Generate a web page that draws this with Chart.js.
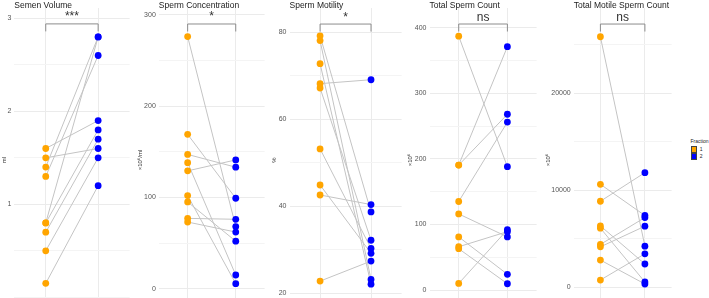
<!DOCTYPE html>
<html>
<head>
<meta charset="utf-8">
<title>Semen parameters by fraction</title>
<script src="https://cdn.jsdelivr.net/npm/chart.js@4.4.1/dist/chart.umd.min.js"></script>
<style>
    html, body { margin: 0; padding: 0; background: #fff; }
    #wrap { position: relative; width: 709px; height: 298px; overflow: hidden; }
    .panel { position: absolute; top: 0; height: 316px; }
    #legend { position: absolute; left: 690.5px; top: 137.5px; font: 5px "Liberation Sans", Arial, sans-serif; color: #222; }
    .lg-title { height: 7px; line-height: 7px; margin-bottom: 1.5px; }
    .lg-item { display: flex; align-items: center; height: 6.8px; }
    .lg-box { width: 6.8px; height: 6.8px; box-sizing: border-box; border: 0.6px solid #444; margin-right: 2.5px; }
</style>
</head>
<body>
<div id="wrap"><div id="legend"></div></div>
<script>
// fractions
const fractions = ["1", "2"];
const fractionColors = ["#FFA500", "#0000FF"];

// panel texts
const titles = ["Semen Volume", "Sperm Concentration", "Sperm Motility", "Total Sperm Count", "Total Motile Sperm Count"];
const units = ["ml", "×10⁶/ml", "%", "×10⁶", "×10⁶"];
const signif = ["***", "*", "*", "ns", "ns"];
const bracketLevels = [2.94, 289.8, 81.9, 405.6, 27140];

// paired values (same index = same sample), fraction 1 / fraction 2
const volume1 = [1.6, 1.5, 1.4, 1.3, 0.8, 0.8, 0.7, 0.5, 0.15];
const volume2 = [1.9, 1.6, 2.8, 2.6, 2.8, 1.8, 1.7, 1.5, 1.2];

const concentration1 = [276, 169, 147, 138, 129, 102, 95, 77, 73];
const concentration2 = [68, 99, 133, 15, 141, 5.5, 52, 76, 62];

const motility1 = [79.2, 78.1, 72.8, 68.2, 67.2, 53.2, 44.9, 42.6, 22.8];
const motility2 = [38.7, 23.2, 22.1, 69.1, 32.2, 30.3, 29.2, 40.4, 27.4];

const totalCount1 = [387, 190.5, 190.5, 135, 116, 81, 66, 63, 10];
const totalCount2 = [188, 371, 268, 256, 81, 24, 89, 9.6, 92];

const motileCount1 = [25830, 10620, 8870, 6330, 6100, 4420, 4170, 2810, 750];
const motileCount2 = [4245, 7400, 11820, 2400, 545, 7190, 6300, 340, 3450];

// y ticks (grid lines) and the labelled ones
const volumeTicks = [0, 0.5, 1, 1.5, 2, 2.5, 3];
const volumeLabels = [1, 2, 3];
const concentrationTicks = [0, 50, 100, 150, 200, 250, 300];
const concentrationLabels = [0, 100, 200, 300];
const motilityTicks = [20, 30, 40, 50, 60, 70, 80];
const motilityLabels = [20, 40, 60, 80];
const totalCountTicks = [0, 50, 100, 150, 200, 250, 300, 350, 400];
const totalCountLabels = [0, 100, 200, 300, 400];
const motileCountTicks = [0, 5000, 10000, 15000, 20000, 25000];
const motileCountLabels = [0, 10000, 20000];

const FONT = "'Liberation Sans', Arial, sans-serif";

const panels = [
    { left: 0, width: 133, axisW: 14.3, min: -0.158, max: 3.111, f1: volume1, f2: volume2, ticks: volumeTicks, labels: volumeLabels },
    { left: 136, width: 132, axisW: 22.8, min: -25.5, max: 307.3, f1: concentration1, f2: concentration2, ticks: concentrationTicks, labels: concentrationLabels },
    { left: 270, width: 135, axisW: 19.5, min: 15.7, max: 85.59, f1: motility1, f2: motility2, ticks: motilityTicks, labels: motilityLabels },
    { left: 406, width: 134, axisW: 23.5, min: -33.5, max: 430, f1: totalCount1, f2: totalCount2, ticks: totalCountTicks, labels: totalCountLabels },
    { left: 544, width: 131, axisW: 29.7, min: -2546, max: 28794, f1: motileCount1, f2: motileCount2, ticks: motileCountTicks, labels: motileCountLabels },
];

// title, significance bracket and star label
const panelDeco = {
    id: "panelDeco",
    afterDraw(chart, args, opts) {
        const { ctx, chartArea, scales } = chart;
        ctx.save();
        ctx.fillStyle = "#1a1a1a";
        ctx.font = "8.5px " + FONT;
        ctx.textAlign = "left";
        ctx.textBaseline = "alphabetic";
        ctx.fillText(opts.title, chartArea.left, 7.5);

        const x1 = scales.x.getPixelForValue(1);
        const x2 = scales.x.getPixelForValue(2);
        const yb = scales.y.getPixelForValue(opts.level);
        ctx.strokeStyle = "#8c8c8c";
        ctx.lineWidth = 1;
        ctx.beginPath();
        ctx.moveTo(x1, yb + 7.5);
        ctx.lineTo(x1, yb);
        ctx.lineTo(x2, yb);
        ctx.lineTo(x2, yb + 7.5);
        ctx.stroke();

        ctx.fillStyle = "#333";
        ctx.font = "12px " + FONT;
        ctx.textAlign = "center";
        ctx.fillText(opts.label, (x1 + x2) / 2, yb - 3.5);
        ctx.restore();
    },
};

// legend drawn as html next to the last panel
const htmlLegend = {
    id: "htmlLegend",
    afterUpdate(chart, args, opts) {
        const box = document.getElementById(opts.containerID);
        if (!box) return;
        box.innerHTML = "";
        const head = document.createElement("div");
        head.className = "lg-title";
        head.textContent = opts.title;
        box.appendChild(head);
        chart.options.plugins.legend.labels
            .generateLabels(chart)
            .filter((item) => fractions.includes(item.text))
            .forEach((item) => {
                const row = document.createElement("div");
                row.className = "lg-item";
                const sw = document.createElement("span");
                sw.className = "lg-box";
                sw.style.background = item.fillStyle;
                const txt = document.createElement("span");
                txt.textContent = item.text;
                row.appendChild(sw);
                row.appendChild(txt);
                box.appendChild(row);
            });
    },
};

const wrap = document.getElementById("wrap");

panels.forEach((p, i) => {
    const holder = document.createElement("div");
    holder.className = "panel";
    holder.style.left = p.left + "px";
    holder.style.width = p.width + "px";
    const canvas = document.createElement("canvas");
    holder.appendChild(canvas);
    wrap.appendChild(holder);

    const pairLines = [];
    p.f1.forEach((v, k) => {
        pairLines.push({ x: 1, y: v }, { x: 2, y: p.f2[k] }, { x: null, y: null });
    });

    const pointSet = (vals, f) => ({
        label: fractions[f],
        data: vals.map((v) => ({ x: f + 1, y: v })),
        showLine: false,
        backgroundColor: fractionColors[f],
        borderColor: fractionColors[f],
        pointRadius: 3.4,
        pointHoverRadius: 3.4,
        pointBorderWidth: 0,
        clip: false,
        order: 0,
    });

    const isLast = i === panels.length - 1;

    new Chart(canvas.getContext("2d"), {
        type: "line",
        data: {
            datasets: [
                pointSet(p.f1, 0),
                pointSet(p.f2, 1),
                {
                    label: "pairs",
                    data: pairLines,
                    borderColor: "#c4c4c4",
                    borderWidth: 1,
                    pointRadius: 0,
                    pointHoverRadius: 0,
                    spanGaps: false,
                    tension: 0,
                    order: 1,
                },
            ],
        },
        options: {
            responsive: true,
            maintainAspectRatio: false,
            animation: false,
            events: [],
            layout: { padding: { top: 8, bottom: 4, left: 0, right: 0 } },
            plugins: {
                legend: { display: false },
                tooltip: { enabled: false },
                panelDeco: { title: titles[i], level: bracketLevels[i], label: signif[i] },
                htmlLegend: { containerID: "legend", title: "Fraction" },
            },
            scales: {
                x: {
                    type: "linear",
                    min: 0.4,
                    max: 2.6,
                    afterBuildTicks: (s) => {
                        s.ticks = [{ value: 1 }, { value: 2 }];
                    },
                    afterFit: (s) => {
                        s.height = 0;
                        s.paddingLeft = 0;
                        s.paddingRight = 0;
                    },
                    ticks: { display: false },
                    grid: { color: "#ebebeb", drawTicks: false },
                    border: { display: false },
                },
                y: {
                    min: p.min,
                    max: p.max,
                    afterBuildTicks: (s) => {
                        s.ticks = p.ticks.map((v) => ({ value: v }));
                    },
                    afterFit: (s) => {
                        s.width = p.axisW;
                        s.paddingTop = 0;
                        s.paddingBottom = 0;
                    },
                    ticks: {
                        autoSkip: false,
                        padding: 3,
                        color: "#555",
                        font: { size: 7, family: FONT },
                        callback: (v) => (p.labels.includes(v) ? String(v) : ""),
                    },
                    grid: {
                        drawTicks: false,
                        color: (c) => (p.labels.includes(c.tick.value) ? "#ebebeb" : "#f4f4f4"),
                    },
                    border: { display: false },
                    title: {
                        display: true,
                        text: units[i],
                        color: "#333",
                        font: { size: 6, family: FONT },
                        padding: { top: 0.4, bottom: 0 },
                    },
                },
            },
        },
        plugins: isLast ? [panelDeco, htmlLegend] : [panelDeco],
    });
});
</script>
</body>
</html>
